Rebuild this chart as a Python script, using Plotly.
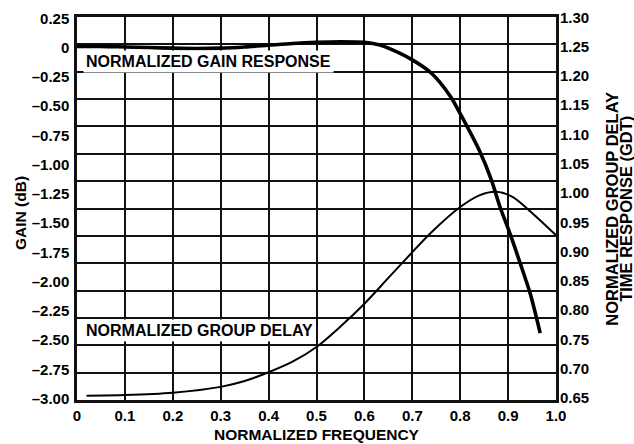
import plotly.graph_objects as go

# ---- data ----
freq_gain = [0.0, 0.05, 0.1, 0.15, 0.2, 0.25, 0.3, 0.35, 0.4, 0.45, 0.5, 0.55, 0.6,
             0.63, 0.65, 0.7, 0.74, 0.78, 0.8, 0.84, 0.865, 0.883, 0.904, 0.925, 0.946, 0.967]
gain_db = [0.01, 0.01, 0.005, 0.0, -0.005, -0.008, -0.005, 0.005, 0.02, 0.035, 0.045, 0.05, 0.045,
           0.023, -0.005, -0.105, -0.22, -0.42, -0.565, -0.88, -1.13, -1.36, -1.59, -1.84, -2.10, -2.44]

freq_gd = [0.02, 0.1, 0.2, 0.3, 0.35, 0.4, 0.45, 0.5, 0.55, 0.6, 0.65, 0.7, 0.74,
           0.8, 0.84, 0.875, 0.91, 0.95, 1.0]
group_delay = [0.654, 0.655, 0.659, 0.669, 0.679, 0.694, 0.712, 0.737, 0.772, 0.811, 0.855, 0.899, 0.933,
               0.976, 0.996, 1.002, 0.993, 0.966, 0.928]

x_ticks = [0, 0.1, 0.2, 0.3, 0.4, 0.5, 0.6, 0.7, 0.8, 0.9, 1.0]
x_tick_labels = ["0", "0.1", "0.2", "0.3", "0.4", "0.5", "0.6", "0.7", "0.8", "0.9", "1.0"]

gain_ticks = [0.25, 0, -0.25, -0.5, -0.75, -1.0, -1.25, -1.5, -1.75, -2.0, -2.25, -2.5, -2.75, -3.0]
gain_tick_labels = ["0.25", "0", "–0.25", "–0.50", "–0.75", "–1.00", "–1.25", "–1.50",
                    "–1.75", "–2.00", "–2.25", "–2.50", "–2.75", "–3.00"]

gd_ticks = [1.30, 1.25, 1.20, 1.15, 1.10, 1.05, 1.00, 0.95, 0.90, 0.85, 0.80, 0.75, 0.70, 0.65]
gd_tick_labels = ["1.30", "1.25", "1.20", "1.15", "1.10", "1.05", "1.00", "0.95",
                  "0.90", "0.85", "0.80", "0.75", "0.70", "0.65"]

# the printed grid has 14 equal rows (independent of the tick labels)
grid_rows = list(range(15))

FONT = "Liberation Sans, Arial, Helvetica, sans-serif"
INK = "#111111"

fig = go.Figure()
fig.add_trace(go.Scatter(x=freq_gain, y=gain_db, mode="lines", yaxis="y",
                         line=dict(color="black", width=3.6, shape="spline", smoothing=0.8),
                         showlegend=False, hoverinfo="skip"))
fig.add_trace(go.Scatter(x=freq_gd, y=group_delay, mode="lines", yaxis="y2",
                         line=dict(color="black", width=2, shape="spline", smoothing=0.8),
                         showlegend=False, hoverinfo="skip"))
fig.add_trace(go.Scatter(x=[], y=[], yaxis="y3", showlegend=False, hoverinfo="skip"))

tickfont = dict(family=FONT, size=15, color="black", weight="bold")
title_font = dict(family=FONT, size=15.5, color="black", weight="bold")
rtitle_font = dict(family=FONT, size=16.5, color="black", weight="bold")

fig.update_layout(
    width=634, height=444,
    margin=dict(l=77, r=78, t=17, b=44, autoexpand=False),
    paper_bgcolor="white", plot_bgcolor="white",
    xaxis=dict(range=[0, 1], tickvals=x_ticks, ticktext=x_tick_labels,
               showgrid=True, gridcolor=INK, gridwidth=2, zeroline=False,
               showline=True, linecolor=INK, linewidth=2.5, mirror=True, automargin=False,
               ticks="", tickfont=tickfont, ticklabelstandoff=0),
    yaxis=dict(range=[-3.011, 0.261], tickvals=gain_ticks, ticktext=gain_tick_labels,
               showgrid=False, zeroline=False, automargin=False,
               showline=True, linecolor=INK, linewidth=2.5, mirror=True,
               ticks="", tickfont=tickfont, ticklabelstandoff=2),
    yaxis2=dict(range=[0.6466, 1.3005], tickvals=gd_ticks, ticktext=gd_tick_labels,
                overlaying="y", side="right", anchor="x", automargin=False,
                showgrid=False, zeroline=False, showline=False,
                ticks="", tickfont=tickfont, ticklabelstandoff=3),
    yaxis3=dict(range=[0, 14], tickvals=grid_rows, overlaying="y", anchor="x", automargin=False,
                showgrid=True, gridcolor=INK, gridwidth=2, zeroline=False,
                showline=False, showticklabels=False, ticks=""),
)

ann_font = dict(family=FONT, size=16, color="black", weight="bold")
fig.add_annotation(xref="paper", yref="paper", x=(83 - 77) / 479, y=(400 - 61.5) / 383,
                   xanchor="left", yanchor="middle", text="NORMALIZED GAIN RESPONSE",
                   showarrow=False, font=ann_font, bgcolor="white", borderpad=2)
fig.add_annotation(xref="paper", yref="paper", x=(83 - 77) / 479, y=(400 - 330) / 383,
                   xanchor="left", yanchor="middle", text="NORMALIZED GROUP DELAY",
                   showarrow=False, font=ann_font, bgcolor="white", borderpad=2)
fig.add_annotation(xref="paper", yref="paper", x=(20 - 77) / 479, y=(400 - 213) / 383,
                   xanchor="center", yanchor="middle", text="GAIN (dB)", textangle=-90,
                   showarrow=False, font=title_font)
fig.add_annotation(xref="paper", yref="paper", x=(611.7 - 77) / 479, y=(400 - 209) / 383,
                   xanchor="center", yanchor="middle", text="NORMALIZED GROUP DELAY", textangle=-90,
                   showarrow=False, font=rtitle_font)
fig.add_annotation(xref="paper", yref="paper", x=(625.8 - 77) / 479, y=(400 - 209) / 383,
                   xanchor="center", yanchor="middle", text="TIME RESPONSE (GDT)", textangle=-90,
                   showarrow=False, font=rtitle_font)
fig.add_annotation(xref="paper", yref="paper", x=0.5, y=(400 - 434.5) / 383,
                   xanchor="center", yanchor="middle", text="NORMALIZED FREQUENCY",
                   showarrow=False, font=title_font)

fig.write_html("out.html", config={"displayModeBar": False},
               post_script="document.body.style.margin='0';")
